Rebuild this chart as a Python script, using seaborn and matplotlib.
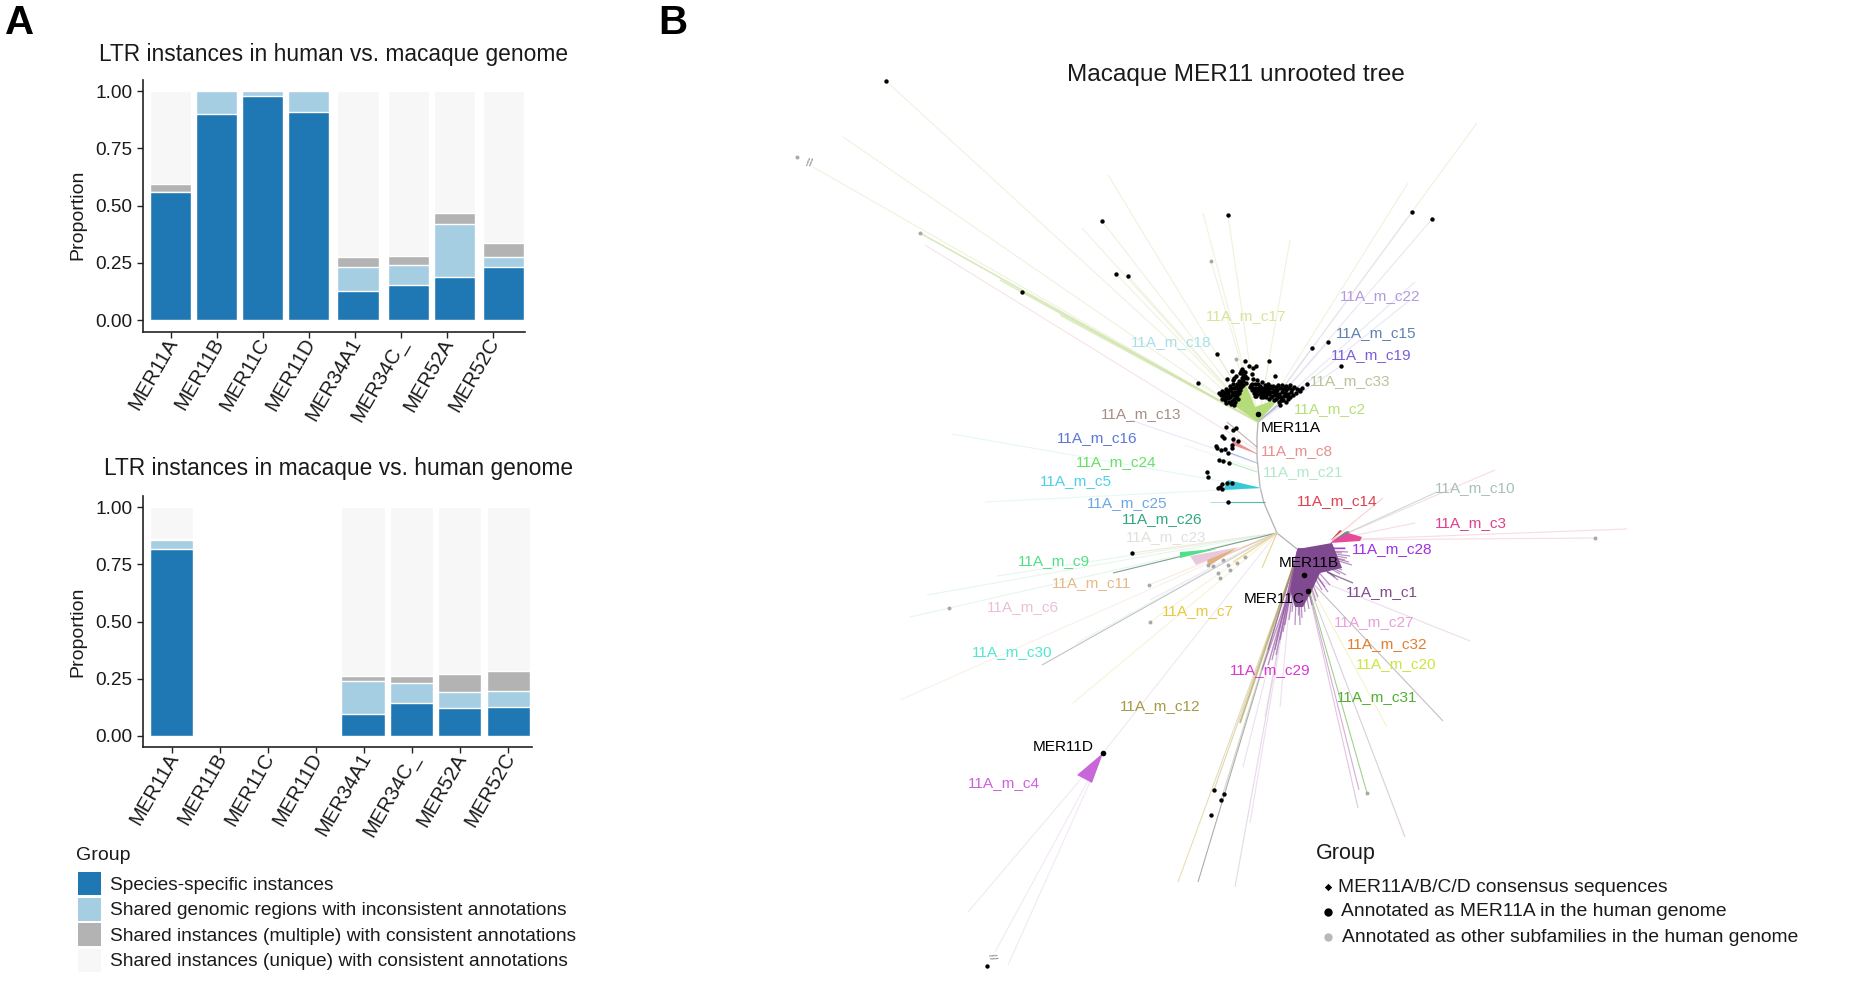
import numpy as np
import pandas as pd
import matplotlib
matplotlib.use("Agg")
import matplotlib.pyplot as plt
from matplotlib.collections import LineCollection
from matplotlib.patches import Patch, Polygon
from matplotlib.transforms import ScaledTranslation
import seaborn as sns

# ---------- Panel A data ----------
subfamilies = ["MER11A", "MER11B", "MER11C", "MER11D", "MER34A1", "MER34C_", "MER52A", "MER52C"]
groups = ["Species-specific instances",
          "Shared genomic regions with inconsistent annotations",
          "Shared instances (multiple) with consistent annotations",
          "Shared instances (unique) with consistent annotations"]
human_species = [0.558, 0.898, 0.978, 0.907, 0.129, 0.154, 0.190, 0.233]
human_inconsistent = [0.0, 0.102, 0.022, 0.093, 0.105, 0.086, 0.230, 0.045]
human_multiple = [0.038, 0.0, 0.0, 0.0, 0.041, 0.039, 0.047, 0.061]
human_unique = [0.404, 0.0, 0.0, 0.0, 0.725, 0.721, 0.533, 0.661]
macaque_species = [0.817, 0, 0, 0, 0.093, 0.145, 0.120, 0.126]
macaque_inconsistent = [0.038, 0, 0, 0, 0.148, 0.084, 0.071, 0.069]
macaque_multiple = [0.006, 0, 0, 0, 0.022, 0.030, 0.081, 0.088]
macaque_unique = [0.139, 0, 0, 0, 0.737, 0.741, 0.728, 0.717]
group_colors = ["#1f78b4", "#a6cee3", "#b3b3b3", "#f7f7f7"]

# ---------- Panel B data: tree (pixel space) ----------
backbone_x = [1258, 1257, 1257, 1260, 1264, 1277, 1297]
backbone_y = [422, 437, 457, 487, 503, 533, 549]

clade_names = ["11A_m_c22", "11A_m_c17", "11A_m_c15", "11A_m_c18", "11A_m_c19", "11A_m_c33", "11A_m_c2",
               "11A_m_c13", "11A_m_c16", "11A_m_c8", "11A_m_c24", "11A_m_c21", "11A_m_c5", "11A_m_c25",
               "11A_m_c14", "11A_m_c26", "11A_m_c23", "11A_m_c10", "11A_m_c3", "11A_m_c28", "11A_m_c9",
               "11A_m_c11", "11A_m_c1", "11A_m_c6", "11A_m_c7", "11A_m_c27", "11A_m_c32", "11A_m_c30",
               "11A_m_c20", "11A_m_c29", "11A_m_c31", "11A_m_c12", "11A_m_c4"]
clade_x = [1380, 1246, 1376, 1171, 1371, 1350, 1330, 1141, 1097, 1297, 1116, 1303, 1076, 1127, 1337, 1162, 1166,
           1475, 1471, 1392, 1054, 1092, 1382, 1023, 1198, 1374, 1387, 1012, 1396, 1270, 1377, 1160, 1004]
clade_y = [296, 316, 333, 342, 355, 381, 409, 414, 438, 451, 462, 472, 481, 503, 501, 519, 537,
           488, 523, 549, 561, 583, 592, 607, 611, 622, 644, 652, 664, 670, 697, 706, 783]
clade_colors = ["#b39ae0", "#dbe39a", "#5f82b0", "#a8e0e8", "#7b5fd8", "#b8c49a", "#b7e07a", "#a88f88", "#5a78d8",
                "#e88f8f", "#66e066", "#b0e8c8", "#4fd0e8", "#6fa8e0", "#e0404f", "#30a880", "#e0e0dc", "#a8c0b8",
                "#e0408f", "#a030e0", "#50e088", "#e8b888", "#7f4a90", "#eac0d8", "#e8c840", "#e8a0d8", "#e07f30",
                "#50e8d0", "#c8e840", "#d838d0", "#50b030", "#a89a40", "#d060e0"]
subfamily_names = ["MER11A", "MER11B", "MER11C", "MER11D"]
subfamily_x = [1291, 1309, 1274, 1063]
subfamily_y = [428, 563, 599, 747]

green_tips = [(886, 81), (843, 137), (813, 167), (920, 233), (1082, 228), (1102, 221), (1116, 274), (1128, 276),
              (1108, 175), (1203, 213), (1228, 215), (1211, 261), (1022, 292), (1198, 383), (1217, 354),
              (1244, 361), (1269, 361), (1236, 359), (1275, 376), (1290, 240), (1477, 123), (1408, 183)]
lavender_tips = [(1412, 212), (1432, 219), (1415, 282), (1410, 300), (1328, 342), (1312, 348), (1341, 366),
                 (1306, 384)]
mid_lines = [((1257, 450), (925, 245), "#f4d4d8"), ((1257, 447), (1227, 422), "#a08a80"),
             ((1257, 454), (1232, 440), "#e88f8f"), ((1257, 463), (1222, 450), "#5a78d8"),
             ((1257, 463), (1130, 420), "#dcdff4"), ((1257, 472), (1222, 460), "#9ce09c"),
             ((1258, 470), (1185, 445), "#e8f4e8"), ((1261, 488), (952, 434), "#d8f2f6"),
             ((1261, 488), (985, 502), "#d8f2f6"), ((1265, 502), (1210, 502), "#8fc8e8"),
             ((1265, 502), (1228, 502), "#30a880")]
junction_tips = [((1132, 553), "#f2d8c0"), ((997, 576), "#d8f2e0"), ((927, 595), "#d8f2e0"), ((910, 617), "#d8f2e0"),
                 ((1113, 573), "#3a7058"), ((1149, 585), "#f6e0d0"), ((1042, 665), "#a0a0a0"), ((900, 700), "#f8e8dc"),
                 ((1077, 643), "#d8f2f2"), ((1073, 703), "#f4ecc4"), ((1150, 622), "#f4ecc4"), ((1103, 753), "#e8dcec"),
                 ((1233, 562), "#e8c840"), ((1262, 568), "#d8c060"), ((1207, 563), "#e0b080"), ((1150, 600), "#f0d8e4")]
mer11d_tips = [(968, 912), (995, 952), (1008, 965)]
purple_fringe = [(1342, 553), (1350, 556), (1345, 560), (1352, 565), (1342, 570), (1346, 575), (1335, 577),
                 (1330, 585), (1322, 590), (1318, 597), (1312, 605), (1305, 612), (1298, 615), (1292, 612),
                 (1285, 625), (1280, 640), (1275, 650), (1295, 625), (1300, 625), (1335, 548), (1345, 548),
                 (1268, 650), (1272, 660), (1348, 552), (1347, 558), (1349, 562), (1340, 574), (1338, 580),
                 (1328, 592), (1325, 587), (1316, 601), (1309, 609), (1302, 618), (1289, 620), (1283, 632)]
lower_left_tips = [((1265, 717), "#e6cfe8"), ((1280, 707), "#e6cfe8"), ((1243, 767), "#e6cfe8"),
                   ((1250, 823), "#e6cfe8"), ((1235, 887), "#d8c4dc"), ((1178, 882), "#d8cc90"),
                   ((1198, 882), "#808080"), ((1214, 790), "#c8c090"), ((1221, 800), "#c0c0b0")]
lower_right_tips = [((1359, 790), "#c080c0"), ((1358, 808), "#d0a8d0"), ((1367, 793), "#70b850"),
                    ((1405, 837), "#c8b4c8"), ((1387, 727), "#f0ecb0"), ((1470, 641), "#e4cce4"),
                    ((1443, 721), "#a898a8")]
right_tips = [((1437, 492), "#a8c8b8"), ((1495, 470), "#f4c8d8"), ((1415, 523), "#f4c8d8"), ((1627, 529), "#f4c8d8"),
              ((1595, 538), "#f4c8d8"), ((1383, 498), "#f4b8b8")]

dots_annotated_x = [1219, 1222, 1224, 1226, 1227, 1225, 1228, 1230, 1231, 1232, 1229, 1232, 1234, 1234, 1235, 1236,
                    1237, 1238, 1239, 1240, 1241, 1242, 1243, 1233, 1227, 1232, 1241, 1243, 1236, 1242, 1240, 1245,
                    1247, 1246, 1249, 1253, 1252, 1253, 1255, 1257, 1250, 1252, 1254, 1256, 1258, 1260, 1262, 1264,
                    1266, 1268, 1270, 1272, 1274, 1276, 1278, 1280, 1282, 1284, 1286, 1288, 1282, 1285, 1290, 1292,
                    1296, 1299, 1266, 1269, 1274, 1279, 1283, 1288, 1280, 1255, 1258, 1262, 1268, 1273, 1267, 1302,
                    1245, 1269, 1256, 1275, 1307, 1217, 1198, 1312, 1328, 1341, 1412, 1432,
                    1226, 1233, 1236, 1222, 1224, 1233, 1238, 1232, 1232, 1216, 1217, 1221, 1225, 1228, 1219, 1223,
                    1229, 1207, 1208, 1218, 1222, 1220, 1222, 1227, 1232, 1228,
                    886, 1022, 1102, 1116, 1128, 1228, 1132, 1214, 1224, 1221, 1211, 987,
                    1221, 1223, 1225, 1226, 1228, 1229, 1230, 1231, 1233, 1234, 1235, 1233, 1236, 1238, 1237, 1240,
                    1241, 1239, 1243, 1244, 1228, 1226, 1231, 1222, 1235, 1238, 1240, 1245, 1243, 1234,
                    1251, 1253, 1255, 1257, 1259, 1261, 1263, 1265, 1267, 1269, 1271, 1273, 1275, 1277, 1279, 1281,
                    1283, 1285, 1287, 1289, 1291, 1263, 1271, 1276, 1281, 1286, 1290, 1293, 1260, 1265, 1270, 1276,
                    1278, 1286, 1294, 1297, 1300, 1252, 1256, 1261]
dots_annotated_y = [393, 391, 396, 389, 393, 400, 398, 386, 391, 395, 402, 401, 405, 388, 392, 397,
                    384, 389, 393, 386, 382, 378, 385, 380, 379, 371, 371, 375, 376, 369, 373, 372,
                    378, 383, 366, 368, 374, 379, 384, 380, 387, 390, 393, 388, 391, 394, 388, 391,
                    394, 389, 392, 396, 390, 393, 397, 388, 392, 396, 390, 394, 385, 387, 385, 389,
                    393, 390, 397, 399, 400, 402, 400, 399, 405, 396, 384, 382, 384, 386, 386, 388,
                    361, 361, 366, 376, 384, 354, 383, 348, 342, 366, 212, 219,
                    427, 430, 428, 436, 438, 439, 441, 445, 448, 446, 448, 450, 449, 453, 460, 461,
                    463, 472, 477, 488, 484, 487, 489, 483, 483, 502,
                    81, 292, 221, 274, 276, 215, 553, 790, 794, 800, 815, 966,
                    395, 393, 392, 397, 394, 390, 397, 388, 393, 399, 395, 384, 387, 391, 395, 390,
                    387, 381, 381, 378, 391, 403, 404, 399, 402, 399, 383, 376, 371, 378,
                    385, 388, 391, 394, 388, 391, 394, 388, 391, 394, 388, 392, 395, 390, 394, 397,
                    389, 393, 396, 388, 392, 397, 397, 399, 400, 402, 397, 395, 386, 385, 386, 387,
                    385, 386, 387, 389, 391, 384, 396, 397]
dots_other_x = [797, 920, 1211, 1236, 1595, 1367, 949, 1149, 1150, 1220, 1218, 1230, 1237, 1245, 1228, 1208, 1213, 1223]
dots_other_y = [157, 233, 261, 359, 538, 793, 608, 585, 622, 578, 573, 570, 563, 557, 565, 565, 566, 560]
consensus_x = [1258, 1304, 1308, 1103]
consensus_y = [414, 575, 591, 753]
tree_legend_labels = ["MER11A/B/C/D consensus sequences", "Annotated as MER11A in the human genome",
                      "Annotated as other subfamilies in the human genome"]

# ---------- style / layout ----------
W, H = 1856, 981
sns.set_theme(style="ticks", rc={"axes.linewidth": 1.2})
plt.rcParams["font.family"] = ["Liberation Sans", "DejaVu Sans"]
fig = plt.figure(figsize=(W / 100, H / 100), dpi=100, facecolor="white")


def axes_px(left, right, top, bottom, **kw):
    return fig.add_axes([left / W, 1 - bottom / H, (right - left) / W, (bottom - top) / H], **kw)


def stacked(ax, comps, xlim, ylim, shifts, label_y, lab_x):
    df = pd.DataFrame({"subfamily": subfamilies})
    cum = np.cumsum(np.array(comps, dtype=float), axis=0)
    n_before = 0
    for i in range(3, -1, -1):
        df["v"] = cum[i]
        sns.barplot(data=df, x="subfamily", y="v", color=group_colors[i], saturation=1, width=0.9,
                    order=subfamilies, ax=ax, errorbar=None, zorder=2 + (3 - i))
        new = ax.patches[n_before:]
        for k, p in enumerate(new):
            p.set_x(p.get_x() + shifts[k])
        n_before = len(ax.patches)
    ax.set_xlim(*xlim)
    ax.set_ylim(*ylim)
    ax.set_yticks([0, .25, .5, .75, 1])
    ax.set_yticklabels(["0.00", "0.25", "0.50", "0.75", "1.00"], fontsize=13.7, color="#1a1a1a")
    ax.set_xlabel("")
    ax.set_ylabel("Proportion", fontsize=14, color="#1a1a1a")
    ax.yaxis.set_label_coords(lab_x, label_y)
    ax.set_xticks(range(8))
    ax.set_xticklabels(subfamilies, rotation=60, ha="right", va="center", rotation_mode="anchor",
                       fontsize=14.6, color="#1a1a1a")
    ax.tick_params(axis="both", length=4, width=1, color="#222222")
    ax.tick_params(axis="x", pad=1.5)
    shift = ScaledTranslation(2.4 / 100, 0, fig.dpi_scale_trans)
    for lbl in ax.get_xticklabels():
        lbl.set_transform(lbl.get_transform() + shift)
    ax.set_facecolor("none")
    sns.despine(ax=ax)
    for s in ("left", "bottom"):
        ax.spines[s].set_color("#222222")


ax_top = axes_px(143, 525.4, 80, 332)
stacked(ax_top, [human_species, human_inconsistent, human_multiple, human_unique],
        (-0.598, 7.715), (-0.051, 1.048), [0, 0, 0, 0, 0.078, 0.173, 0.173, 0.233], 0.464, -0.148)
ax_bot = axes_px(143, 531.8, 496, 747)
stacked(ax_bot, [macaque_species, macaque_inconsistent, macaque_multiple, macaque_unique],
        (-0.597, 7.494), (-0.05, 1.05), [0, 0, 0, 0, -0.02, -0.01, -0.01, 0.01], 0.458, -0.145)


def ftext(x, y, s, **kw):
    kw.setdefault("ha", "center")
    kw.setdefault("va", "center")
    fig.text(x / W, 1 - y / H, s, **kw)


ftext(334, 54, "LTR instances in human vs. macaque genome", fontsize=16.35, color="#1a1a1a")
ftext(339, 468, "LTR instances in macaque vs. human genome", fontsize=16.4, color="#1a1a1a")
ftext(20, 23, "A", fontsize=29, fontweight="bold", color="black")
ftext(673, 23, "B", fontsize=29, fontweight="bold", color="black")

ftext(76, 855, "Group", fontsize=14, ha="left", color="#1a1a1a")
handles = [Patch(facecolor=c, edgecolor="none") for c in group_colors]
fig.legend(handles, groups, loc="upper left", bbox_to_anchor=(77.5 / W, 1 - 872 / H), frameon=False,
           fontsize=13.8, handlelength=1.2, handleheight=1.47, labelspacing=0.13,
           handletextpad=0.5, borderpad=0, borderaxespad=0, labelcolor="#1a1a1a")

# ---------- Panel B ----------
ax = fig.add_axes([0, 0, 1, 1], zorder=-1)
ax.set_xlim(0, W)
ax.set_ylim(H, 0)
ax.axis("off")


def rays(origin, tips, color, lw=0.8, z=1, alpha=0.65):
    segs = [[origin, t] for t in tips]
    ax.add_collection(LineCollection(segs, colors=color, linewidths=lw, zorder=z, alpha=alpha))


ax.plot(backbone_x, backbone_y, color="#b8b8b8", lw=1, zorder=1)
rays((1258, 422), green_tips, "#e4edcc")
rays((1258, 422), [(920, 233), (1000, 280), (1060, 315)], "#cfe3a8", lw=1.2)
rays((1258, 422), lavender_tips, "#dcdcf0")
rays((1258, 422), [(1300, 385), (1295, 392)], "#a8b0c0")
for a, b, c in mid_lines:
    rays(a, [b], c)
for t, c in junction_tips:
    rays((1277, 533), [t], c)
rays((1103, 753), mer11d_tips, "#ecdcf0")
for t, c in lower_left_tips:
    rays((1293, 567), [t], c)
for t, c in lower_right_tips:
    rays((1305, 575), [t], c)
for t, c in right_tips:
    rays((1332, 540), [t], c)
rays((1298, 549), purple_fringe, "#8b4a9a", lw=0.9, z=2, alpha=0.6)
rays((1320, 548), [(1345, 548)], "#a030e0", lw=1.0, z=3, alpha=0.9)
rays((1327, 572), [(1353, 583)], "#5f3a6a", lw=1.0, z=3)
rays((1293, 567), [(1240, 723)], "#a8994f", lw=1.4, z=2)
rays((1290, 590), [(1262, 670), (1268, 665), (1276, 655)], "#9a60a8", lw=1.0, z=2)


def poly(points, color, z=3):
    ax.add_patch(Polygon(points, closed=True, facecolor=color, edgecolor="none", zorder=z))


poly([(1258, 422), (1222, 397), (1243, 378), (1255, 407), (1280, 398)], "#b5dc78")
poly([(1298, 549), (1332, 543), (1342, 568), (1320, 573), (1312, 590), (1303, 607), (1295, 607), (1290, 590)], "#7f4a90")
poly([(1330, 543), (1345, 532), (1362, 537), (1360, 541)], "#e64a98")
poly([(1330, 541), (1340, 530), (1342, 531)], "#d8404f", z=4)
poly([(1335, 540), (1347, 531), (1350, 532)], "#4f9f88", z=4)
poly([(1261, 488), (1228, 480), (1223, 490)], "#38c8d8")
poly([(1257, 454), (1232, 440), (1233, 445)], "#e88f8f")
poly([(1217, 549), (1180, 552), (1180, 558)], "#50e088")
poly([(1237, 548), (1207, 560), (1209, 566)], "#e0b080")
poly([(1240, 547), (1190, 556), (1196, 565)], "#eac8dc", z=2)
poly([(1103, 753), (1077, 775), (1092, 783)], "#c868d8")

sns.scatterplot(x=dots_other_x, y=dots_other_y, color="#a8a8a8", s=8, linewidth=0, ax=ax, zorder=5, legend=False)
sns.scatterplot(x=dots_annotated_x, y=dots_annotated_y, color="black", s=10, linewidth=0, ax=ax, zorder=6, legend=False)
sns.scatterplot(x=consensus_x, y=consensus_y, color="black", s=16, linewidth=0, ax=ax, zorder=7, legend=False)
ax.set_xlim(0, W)
ax.set_ylim(H, 0)
ax.set_xlabel("")
ax.set_ylabel("")

ax.text(809, 163, "//", fontsize=8, color="#777777", ha="center", va="center", rotation=-5)
ax.text(992, 957, "//", fontsize=8, color="#777777", ha="center", va="center", rotation=-70)

for n, x, y, c in zip(clade_names, clade_x, clade_y, clade_colors):
    ax.text(x, y, n, color=c, fontsize=11.1, ha="center", va="center", zorder=8)
for n, x, y in zip(subfamily_names, subfamily_x, subfamily_y):
    ax.text(x, y, n, color="black", fontsize=11.1, ha="center", va="center", zorder=9)

ftext(1236, 75, "Macaque MER11 unrooted tree", fontsize=17.6, color="#1a1a1a")
ftext(1316, 853, "Group", fontsize=15.5, ha="left", color="#1a1a1a")
leg_y = [887, 912, 937]
leg_text_x = [1338, 1341, 1342]
ax.scatter([1328], [leg_y[0]], marker="D", s=14, color="black", linewidth=0, zorder=5)
ax.scatter([1328], [leg_y[1]], s=36, color="black", linewidth=0, zorder=5)
ax.scatter([1328], [leg_y[2]], s=36, color="#b8b8b8", linewidth=0, zorder=5)
for tx, ty, s in zip(leg_text_x, leg_y, tree_legend_labels):
    ftext(tx, ty, s, fontsize=13.9, ha="left", color="#1a1a1a")

fig.savefig("out.png", dpi=100, facecolor="white")
